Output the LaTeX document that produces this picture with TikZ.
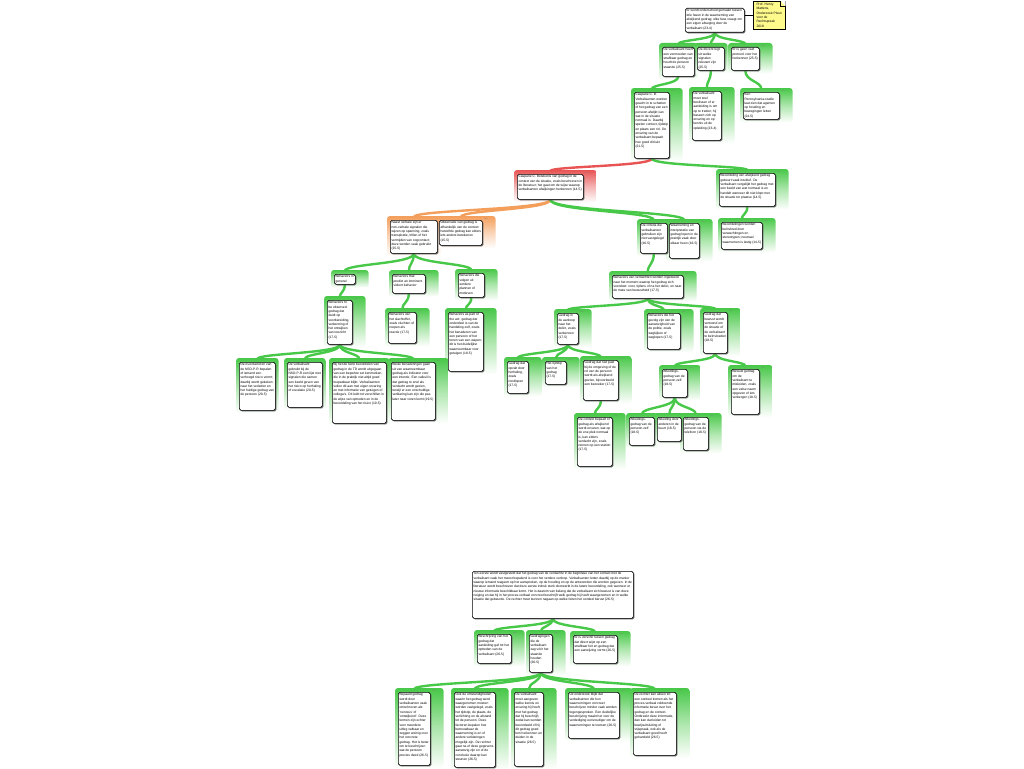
\documentclass[tikz,border=0pt]{standalone}
\usepackage{fontspec}
\setmainfont{Liberation Sans}
\usetikzlibrary{backgrounds,shadows,calc}

\definecolor{mmgreen}{RGB}{72,200,72}
\definecolor{mmred}{RGB}{232,84,84}
\definecolor{mmorange}{RGB}{244,158,92}
\definecolor{mmnote}{RGB}{255,250,140}

\newbox\topicsave
% text of a topic, at least as high as the box: width, height, text
\newcommand{\topictext}[3]{%
  \setbox\topicsave=\vbox{\hsize=#1\relax\noindent\raggedright #3\par}%
  \ifdim\dimexpr\ht\topicsave+\dp\topicsave\relax<#2\relax
    \vbox to #2{\box\topicsave\vfil}%
  \else
    \box\topicsave
  \fi}

% box of one topic: name, x, y, width, height, text
\newcommand{\topic}[6]{%
  \node [topicbox] (#1) at (#2,#3)
    {\topictext{\dimexpr#4pt-2.4pt\relax}{\dimexpr#5pt-2.4pt\relax}{#6}};%
}

% coloured strip behind a topic: [tag], name, colour
\newcommand{\panel}[3][]{%
  \begin{pgfonlayer}{background}
  \ifx\relax#1\relax
    \path [panel=#3] ($(#2.north west)+(-3,-4)$) rectangle ($(#2.south east)+(3,3)$);%
  \else
    \path [panel=#3] ($(#2.north west)+(-3,-4)$) rectangle ($(#2.south east)+(13,3)$);%
  \fi
  \end{pgfonlayer}
  \ifx\relax#1\relax\else
    \node [tag] at ($(#2.north east)+(1.5,-2)$) {#1};%
  \fi
}

% connector from parent to child: colour, parent, child
\newcommand{\branch}[3]{%
  \begin{pgfonlayer}{background}
    \path ($(#2.south)!0.5!(#3.north)$) coordinate (bend);%
    \draw [branch=#1] (#2.south) .. controls (#2.south |- bend) and (#3.north |- bend) .. ($(#3.north)+(0,-3)$);%
  \end{pgfonlayer}
}

\begin{document}
\begin{tikzpicture}[x=1pt,y=-1pt,
    topicbox/.style={draw=black, line width=0.6pt, fill=white, rounded corners=1.6pt,
      anchor=north west, inner sep=1.2pt, font=\fontsize{3.3}{4.3}\selectfont,
      drop shadow={shadow xshift=1.1pt, shadow yshift=-1.1pt, fill=black!70, opacity=0.9}},
    notebox/.style={draw=black, line width=0.5pt, fill=mmnote, anchor=north west,
      inner sep=1.2pt, font=\fontsize{3.3}{4.3}\selectfont, align=left,
      drop shadow={shadow xshift=1pt, shadow yshift=-1pt, fill=black!60, opacity=0.8}},
    panel/.style={rounded corners=3pt, top color=#1, bottom color=white, middle color=#1!45},
    tag/.style={anchor=north west, inner sep=0pt, text=black!50, font=\fontsize{1.8}{2}\selectfont},
    branch/.style={draw=#1, line width=2.4pt}]
\useasboundingbox (0,0) rectangle (1024,768);

% Drawing central topic and its note
\topic{root}{685}{8}{59}{24}{Er wordt onderscheid gemaakt tussen drie fasen in de waarneming van afwijkend gedrag; elke fase vraagt om een eigen afweging door de verbalisant (23-4)}
\node [notebox, minimum width=32pt, minimum height=28pt] (note) at (753,1) {Prof. Henry\\Mattens,\\Onderzoek Pleun\\voor de\\Rechtspraak\\2018};%
\fill [white] (note.north east) -- ++(-5,0) -- ++(5,5) -- cycle;%
\draw [line width=0.4pt] (note.north east) ++(-5,0) -- ++(0,5) -- ++(5,0);%
\draw [line width=0.5pt] (note.west) -- (note.west -| root.east);%

% Drawing topics of the first level
\topic{a}{662}{47}{32}{29}{De verbalisant heeft een vermoeden van strafbaar gedrag en houdt de persoon staande (25-5)}
\topic{b}{697}{47}{27}{23}{De docent legt uit welke signalen relevant zijn (25-5)}
\topic{c}{731}{47}{28}{23}{Er is geen vast protocol voor het herkennen (25-5)}

% Drawing topics of the second level
\topic{d}{634}{92}{35}{66}{Casparie C. B. Verbalisanten worden geacht in te schatten of het gedrag van een persoon afwijkt van wat in de situatie normaal is. Daarbij spelen context, tijdstip en plaats een rol. De ervaring van de verbalisant bepaalt hoe goed dit lukt (21-5)}
\topic{e}{692}{91}{29}{49}{De verbalisant moet snel beslissen of er aanleiding is om op te treden; hij baseert zich op ervaring en op kennis uit de opleiding (23-4)}
\topic{f}{743}{92}{36}{27}{Een Pennsylvania-studie laat zien dat agenten op houding en bewegingen letten (24-5)}

% Drawing topics of the third level
\topic{g}{517}{174}{66}{25}{Casparie C. Betekenis van gedrag in de context van de situatie, zoals beschreven in de literatuur; het gaat om de wijze waarop verbalisanten afwijkingen herkennen (14-5)}
\topic{h}{719}{173}{56}{33}{Beoordeling van afwijkend gedrag gebeurt vaak intu\"itief. De verbalisant vergelijkt het gedrag met een beeld van wat normaal is en handelt wanneer dit niet klopt met de situatie ter plaatse (14-5)}

% Drawing topics of the fourth level
\topic{i}{390}{220}{47}{33}{Naast verbale zijn er non-verbale signalen die wijzen op spanning, zoals transpiratie, trillen of het vermijden van oogcontact; deze worden vaak gebruikt (15-5)}
\topic{j}{439}{220}{43}{25}{Observatie van gedrag is afhankelijk van de context: hetzelfde gedrag kan elders iets anders betekenen (15-5)}
\topic{k}{640}{223}{27}{30}{De criteria die verbalisanten gebruiken zijn niet vastgelegd (16-5)}
\topic{l}{669}{223}{30}{35}{Waarneming en interpretatie van gedrag lopen in de praktijk vaak door elkaar heen (16-5)}
\topic{p}{721}{222}{41}{27}{Beoordelingen worden be\"invloed door verwachtingen en stereotypen; neutraal waarnemen is lastig (14-5)}

% Drawing topics of the fifth level
\topic{m}{334}{274}{21}{10}{Behaviors in general}
\topic{n}{392}{274}{33}{19}{Behaviors that predict an imminent violent behavior}
\topic{o}{458}{273}{26}{24}{Behaviors die volgen uit eerdere plannen of motieven}
\topic{q}{612}{275}{71}{23}{Behaviors van verdachten worden ingedeeld naar het moment waarop het gedrag zich voordoet: voor, tijdens of na het delict, en naar de mate van bewustheid (17-5)}

% Drawing topics of the sixth level
\topic{r}{327}{300}{25}{44}{Behaviors to be observed: gedrag dat duidt op voorbereiding, verkenning of het ontwijken van toezicht (17-5)}
\topic{s}{388}{312}{28}{31}{Behaviors van het slachtoffer, zoals vluchten of roepen als reactie (17-5)}
\topic{t}{448}{312}{35}{59}{Behaviors as part of the act: gedrag dat onderdeel is van de handeling zelf, zoals het benaderen van een persoon of het tonen van een wapen; dit is het duidelijkst waarneembaar voor getuigen (18-5)}
\topic{y}{557}{313}{21}{31}{Gedrag in de aanloop naar het delict, zoals verkennen (17-5)}
\topic{z}{647}{313}{33}{36}{Behaviors die het gevolg zijn van de aanwezigheid van de politie, zoals wegkijken of weglopen (17-5)}
\topic{aa}{703}{312}{24}{41}{Gedrag dat bewust wordt vertoond om de situatie of de verbalisant te be\"invloeden (18-5)}

% Drawing topics of the seventh level
\topic{x1}{239}{362}{36}{48}{De risicofactoren van de NSD-P-R bepalen of iemand een verhoogd risico vormt; daarbij wordt gekeken naar het verleden en het huidige gedrag van de persoon (20-5)}
\topic{x2}{287}{362}{35}{45}{De verbalisant gebruikt bij de NSD-P-R een lijst met signalen die samen een beeld geven van het risico op herhaling of escalatie (20-5)}
\topic{x3}{332}{362}{54}{61}{Bij het de facto beoordelen van gedrag in de TD wordt uitgegaan van een beperkte set kenmerken, die in de praktijk niet altijd goed toepasbaar blijkt. Verbalisanten vullen dit aan met eigen ervaring en met informatie van getuigen of collega's. Dit leidt tot verschillen in de wijze van optreden en in de beoordeling van het risico (19-5)}
\topic{x4}{391}{362}{44}{58}{Beide benaderingen gaan uit van waarneembaar gedrag als indicator voor een intentie. Een valkuil is dat gedrag te snel als verdacht wordt gezien, terwijl er een onschuldige verklaring kan zijn die pas later naar voren komt (19-5)}
\topic{y1}{507}{361}{21}{32}{Gedrag dat opvalt door herhaling, zoals rondlopen (17-5)}
\topic{y2}{545}{361}{21}{23}{Het tijdstip van het gedrag (17-5)}
\topic{y3}{583}{360}{35}{40}{Gedrag dat niet past bij de omgeving of de rol van de persoon wordt als afwijkend gezien, bijvoorbeeld een bezoeker (17-5)}
\topic{aa1}{662}{369}{25}{28}{Afleidings\-gedrag van de persoon zelf (18-5)}
\topic{aa2}{731}{369}{28}{45}{Bewust gedrag om de verbalisant te misleiden, zoals een valse naam opgeven of iets verbergen (18-5)}

% Drawing topics of the eighth level
\topic{y31}{577}{417}{35}{49}{De context bepaalt of gedrag als afwijkend wordt ervaren; wat op de ene plek normaal is, kan elders verdacht zijn, zoals rennen op een station (17-5)}
\topic{aa11}{629}{417}{25}{28}{Afleidings\-gedrag van de persoon zelf (18-5)}
\topic{aa12}{657}{417}{24}{24}{Afleiding door anderen in de buurt (18-5)}
\topic{aa13}{683}{417}{25}{33}{Afleidings\-gedrag van de persoon via de telefoon (18-5)}

% Drawing second central topic
\topic{bb}{472}{571}{161}{47}{Ten eerste wordt vastgesteld dat het gedrag van de verdachte in de beginfase van het contact met de verbalisant vaak het meest bepalend is voor het verdere verloop. Verbalisanten letten daarbij op de manier waarop iemand reageert op het aanspreken, op de houding en op de antwoorden die worden gegeven. In de literatuur wordt beschreven dat deze eerste indruk sterk doorwerkt in de latere beoordeling, ook wanneer er nieuwe informatie beschikbaar komt. Het is daarom van belang dat de verbalisant zich bewust is van deze neiging en dat hij in het proces-verbaal concreet beschrijft welk gedrag hij heeft waargenomen en in welke situatie dat gebeurde. De rechter moet kunnen nagaan op welke feiten het oordeel berust (26-5)}
\topic{cc1}{477}{634}{34}{29}{Beschrijving van het gedrag dat aanleiding gaf tot het optreden van de verbalisant (26-5)}
\topic{cc2}{529}{634}{23}{38}{Gedragingen die de verbalisant zag v\'o\'or het staande houden (26-5)}
\topic{cc3}{573}{635}{44}{28}{Er is verschil tussen gedrag dat direct wijst op een strafbaar feit en gedrag dat een aanwijzing vormt (26-5)}
\topic{dd1}{398}{692}{32}{73}{Bepaald gedrag wordt door verbalisanten vaak omschreven als 'nerveus' of 'ontwijkend'. Deze termen zijn echter voor meerdere uitleg vatbaar en zeggen weinig over het concrete gedrag. Het is beter om te beschrijven wat de persoon precies deed (26-5)}
\topic{dd2}{454}{692}{41}{75}{Ook de omstandigheden waarin het gedrag werd waargenomen moeten worden vastgelegd, zoals het tijdstip, de plaats, de verlichting en de afstand tot de persoon. Deze factoren bepalen hoe betrouwbaar de waarneming is en of andere verklaringen mogelijk zijn. De rechter gaat na of deze gegevens aanwezig zijn en of de conclusie daarop kan steunen (26-5)}
\topic{dd3}{514}{692}{29}{74}{De verbalisant moet aangeven welke kennis en ervaring hij heeft met het gedrag dat hij beschrijft, zodat kan worden beoordeeld of hij dit gedrag goed kon herkennen en duiden in de situatie (26-5)}
\topic{dd4}{568}{692}{51}{46}{Uit onderzoek blijkt dat verbalisanten die hun waarnemingen concreet beschrijven minder vaak worden tegengesproken. Een duidelijke beschrijving maakt het voor de verdediging eenvoudiger om de waarnemingen te toetsen (26-5)}
\topic{dd5}{633}{692}{43}{63}{De rechter kan alleen tot een oordeel komen als het proces-verbaal voldoende informatie bevat over het gedrag en de context. Ontbreekt deze informatie, dan kan dat leiden tot bewijsuitsluiting of vrijspraak, ook als de verbalisant goed heeft gehandeld (26-5)}

% Drawing strips behind the topics
\panel{a}{mmgreen}
\panel{b}{mmgreen}
\panel[bron]{c}{mmgreen}
\panel[bron]{d}{mmgreen}
\panel[bron]{e}{mmgreen}
\panel[bron]{f}{mmgreen}
\panel[bron]{g}{mmred}
\panel[bron]{h}{mmgreen}
\panel{i}{mmorange}
\panel[bron]{j}{mmorange}
\panel{k}{mmgreen}
\panel[bron]{l}{mmgreen}
\panel[bron]{p}{mmgreen}
\panel[bron]{m}{mmgreen}
\panel[bron]{n}{mmgreen}
\panel[bron]{o}{mmgreen}
\panel[bron]{q}{mmgreen}
\panel[bron]{r}{mmgreen}
\panel[bron]{s}{mmgreen}
\panel[bron]{t}{mmgreen}
\panel[bron]{y}{mmgreen}
\panel[bron]{z}{mmgreen}
\panel[bron]{aa}{mmgreen}
\panel{x1}{mmgreen}
\panel{x2}{mmgreen}
\panel{x3}{mmgreen}
\panel[bron]{x4}{mmgreen}
\panel[bron]{y1}{mmgreen}
\panel[bron]{y2}{mmgreen}
\panel[bron]{y3}{mmgreen}
\panel[bron]{aa1}{mmgreen}
\panel[bron]{aa2}{mmgreen}
\panel[bron]{y31}{mmgreen}
\panel{aa11}{mmgreen}
\panel{aa12}{mmgreen}
\panel[bron]{aa13}{mmgreen}
\panel[bron]{cc1}{mmgreen}
\panel[bron]{cc2}{mmgreen}
\panel[bron]{cc3}{mmgreen}
\panel[bron]{dd1}{mmgreen}
\panel[bron]{dd2}{mmgreen}
\panel[bron]{dd3}{mmgreen}
\panel[bron]{dd4}{mmgreen}
\panel[bron]{dd5}{mmgreen}

% Drawing connectors
\branch{mmgreen}{root}{a}
\branch{mmgreen}{root}{b}
\branch{mmgreen}{root}{c}
\branch{mmgreen}{a}{d}
\branch{mmgreen}{b}{e}
\branch{mmgreen}{c}{f}
\branch{mmred}{d}{g}
\branch{mmgreen}{d}{h}
\branch{mmorange}{g}{i}
\branch{mmorange}{g}{j}
\branch{mmgreen}{g}{k}
\branch{mmgreen}{g}{l}
\branch{mmgreen}{h}{p}
\branch{mmgreen}{i}{m}
\branch{mmgreen}{i}{n}
\branch{mmgreen}{i}{o}
\branch{mmgreen}{k}{q}
\branch{mmgreen}{m}{r}
\branch{mmgreen}{n}{s}
\branch{mmgreen}{o}{t}
\branch{mmgreen}{r}{x1}
\branch{mmgreen}{r}{x2}
\branch{mmgreen}{r}{x3}
\branch{mmgreen}{r}{x4}
\branch{mmgreen}{q}{y}
\branch{mmgreen}{q}{z}
\branch{mmgreen}{q}{aa}
\branch{mmgreen}{y}{y1}
\branch{mmgreen}{y}{y2}
\branch{mmgreen}{y}{y3}
\branch{mmgreen}{y3}{y31}
\branch{mmgreen}{aa}{aa1}
\branch{mmgreen}{aa}{aa2}
\branch{mmgreen}{aa1}{aa11}
\branch{mmgreen}{aa1}{aa12}
\branch{mmgreen}{aa1}{aa13}
\branch{mmgreen}{bb}{cc1}
\branch{mmgreen}{bb}{cc2}
\branch{mmgreen}{bb}{cc3}
\branch{mmgreen}{cc2}{dd1}
\branch{mmgreen}{cc2}{dd2}
\branch{mmgreen}{cc2}{dd3}
\branch{mmgreen}{cc2}{dd4}
\branch{mmgreen}{cc2}{dd5}
\end{tikzpicture}
\end{document}
